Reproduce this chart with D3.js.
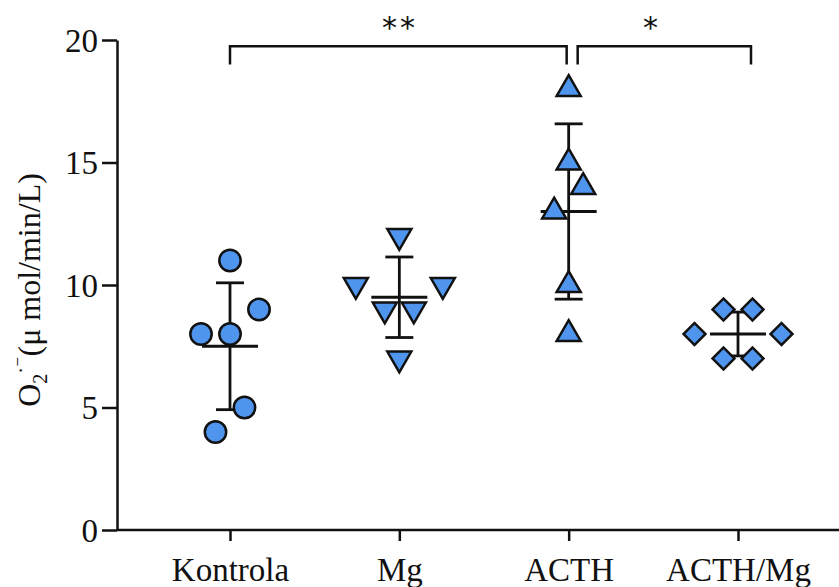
<!DOCTYPE html>
<html>
<head>
<meta charset="utf-8">
<script src="https://cdn.jsdelivr.net/npm/d3@7"></script>
<style>
  body { margin: 0; background: #fff; }
  text { font-family: "Liberation Serif", "DejaVu Serif", serif; fill: #111; }
</style>
</head>
<body>
<svg id="chart"></svg>
<script>
// groups and their measured values
const categories = ["Kontrola", "Mg", "ACTH", "ACTH/Mg"];
const kontrolaValues = [11, 9, 8, 8, 5, 4];
const mgValues = [12, 10, 10, 9, 9, 7];
const acthValues = [18, 15, 14, 13, 10, 8];
const acthMgValues = [9, 9, 8, 8, 7, 7];
const yTicks = [0, 5, 10, 15, 20];
const significance = [
    { from: "Kontrola", to: "ACTH", label: "**" },
    { from: "ACTH", to: "ACTH/Mg", label: "*" }
];

// horizontal spread of the points inside each group (in half-marker steps)
const kontrolaSpread = [0, 2, -2, 0, 1, -1];
const mgSpread = [0, -3, 3, -1, 1, 0];
const acthSpread = [0, 0, 1, -1, 0, 0];
const acthMgSpread = [-1, 1, -3, 3, -1, 1];

const groups = [
    { name: "Kontrola", values: kontrolaValues, spread: kontrolaSpread, shape: "circle" },
    { name: "Mg", values: mgValues, spread: mgSpread, shape: "triangleDown" },
    { name: "ACTH", values: acthValues, spread: acthSpread, shape: "triangleUp" },
    { name: "ACTH/Mg", values: acthMgValues, spread: acthMgSpread, shape: "diamond" }
];

const width = 839, height = 587;
const fill = "#4f95ee";
const step = 14.5;

const svg = d3.select("#chart")
              .attr("width", width)
              .attr("height", height);

const xScale = d3.scalePoint()
                 .domain(categories)
                 .range([230, 738]);

const yScale = d3.scaleLinear()
                 .domain([0, 20])
                 .range([530, 40]);

// axes
const yAxis = svg.append("g")
                 .attr("transform", "translate(117,0)")
                 .call(d3.axisLeft(yScale).tickValues(yTicks).tickSize(15).tickPadding(4).tickSizeOuter(0));

const xAxis = svg.append("g")
                 .attr("transform", "translate(0,530)")
                 .call(d3.axisBottom(xScale).tickSize(11).tickPadding(18).tickSizeOuter(0));

xAxis.select(".domain").attr("d", "M117,0H839");

[xAxis, yAxis].forEach(a => {
    a.selectAll("path, line").attr("stroke", "#111").attr("stroke-width", 2.5);
    a.selectAll("text")
     .attr("fill", "#111")
     .style("font-family", '"Liberation Serif", serif')
     .style("font-size", "33px");
});
xAxis.selectAll("text").attr("dy", "0.68em");
yAxis.selectAll("text").attr("dy", "0.34em");

// y axis title
const yTitle = svg.append("text")
                  .attr("transform", "translate(40,290) rotate(-90)")
                  .attr("text-anchor", "middle")
                  .style("font-size", "32px");
yTitle.append("tspan").text("O");
yTitle.append("tspan").attr("dy", 7).style("font-size", "20px").text("2");
yTitle.append("tspan").attr("dy", -19).style("font-size", "20px").text("·⁻");
yTitle.append("tspan").attr("dy", 12).text("(μ mol/min/L)");

// mean ± SD
groups.forEach(g => {
    const cx = xScale(g.name);
    const mean = d3.mean(g.values);
    const sd = d3.deviation(g.values);
    const eb = svg.append("g")
                  .attr("stroke", "#111")
                  .attr("stroke-width", 2.8)
                  .attr("fill", "none");
    eb.append("line")
      .attr("x1", cx).attr("x2", cx)
      .attr("y1", yScale(mean + sd)).attr("y2", yScale(mean - sd));
    eb.append("line")
      .attr("x1", cx - 14).attr("x2", cx + 14)
      .attr("y1", yScale(mean + sd)).attr("y2", yScale(mean + sd));
    eb.append("line")
      .attr("x1", cx - 14).attr("x2", cx + 14)
      .attr("y1", yScale(mean - sd)).attr("y2", yScale(mean - sd));
    eb.append("line")
      .attr("x1", cx - 28).attr("x2", cx + 28)
      .attr("y1", yScale(mean)).attr("y2", yScale(mean));
});

// points
const shapes = {
    circle: { type: d3.symbolCircle, size: 360, rotate: 0 },
    triangleUp: { type: d3.symbolTriangle, size: 250, rotate: 0 },
    triangleDown: { type: d3.symbolTriangle, size: 250, rotate: 180 },
    diamond: { type: d3.symbolSquare, size: 240, rotate: 45 }
};

groups.forEach(g => {
    const s = shapes[g.shape];
    svg.append("g")
       .selectAll("path")
       .data(g.values)
       .enter()
       .append("path")
       .attr("d", d3.symbol().type(s.type).size(s.size))
       .attr("transform", (d, i) => `translate(${xScale(g.name) + g.spread[i] * step}, ${yScale(d)}) rotate(${s.rotate})`)
       .attr("fill", fill)
       .attr("stroke", "#111")
       .attr("stroke-width", 2.5)
       .attr("stroke-linejoin", "miter");
});

// significance brackets
const bracketTop = yScale(19.75), bracketBottom = yScale(19.0);
const bracketEnds = [
    [xScale("Kontrola"), xScale("ACTH") - 2],
    [xScale("ACTH") + 9, xScale("ACTH/Mg") + 13]
];
const starX = [400, 652];

significance.forEach((s, i) => {
    const [x1, x2] = bracketEnds[i];
    svg.append("path")
       .attr("d", `M${x1},${bracketBottom}V${bracketTop}H${x2}V${bracketBottom}`)
       .attr("fill", "none")
       .attr("stroke", "#111")
       .attr("stroke-width", 2.5);
    svg.append("text")
       .attr("x", starX[i])
       .attr("y", 38)
       .attr("text-anchor", "middle")
       .style("font-family", '"DejaVu Sans", sans-serif')
       .style("font-size", "30px")
       .style("letter-spacing", "3px")
       .text(s.label);
});
</script>
</body>
</html>
